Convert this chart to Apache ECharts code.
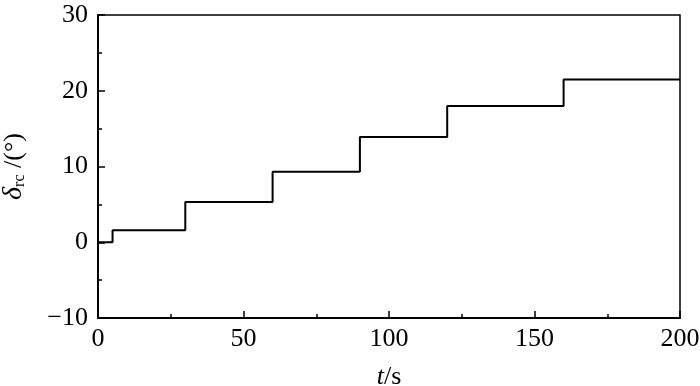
<!DOCTYPE html>
<html>
<head>
<meta charset="utf-8">
<script src="https://cdn.jsdelivr.net/npm/echarts@6/dist/echarts.min.js"></script>
<style>html,body{margin:0;padding:0;background:#fff;}#c{width:700px;height:386px;}</style>
</head>
<body>
<div id="c"></div>
<script>
const stepTimes = [0, 5, 30, 60, 90, 120, 160, 200];
const stepValues = [0, 1.6, 5.3, 9.3, 13.9, 18.0, 21.5, 21.5];
const xTicks = [0, 50, 100, 150, 200];
const yTicks = [-10, 0, 10, 20, 30];

const font = "'Liberation Serif', 'Times New Roman', serif";
const chart = echarts.init(document.getElementById('c'), null, {renderer: 'canvas'});
chart.setOption({
  animation: false,
  backgroundColor: '#fff',
  grid: {left: 98, right: 20, top: 15, bottom: 68, outerBoundsMode: 'none', containLabel: false,
    show: true, borderColor: '#000', borderWidth: 1.5, backgroundColor: 'transparent'},
  xAxis: {
    type: 'value', min: 0, max: 200, interval: 50,
    name: '{i|t}/s', nameLocation: 'middle', nameGap: 46,
    nameTextStyle: {fontFamily: font, fontSize: 26, color: '#000', rich: {i: {fontFamily: font, fontSize: 26, fontStyle: 'italic', color: '#000'}}},
    axisLine: {show: true, onZero: false, lineStyle: {color: '#000', width: 2}},
    axisTick: {show: true, inside: true, length: 7, lineStyle: {color: '#000', width: 1.5}},
    minorTick: {show: true, splitNumber: 2, length: 4, lineStyle: {color: '#000', width: 1.5}},
    axisLabel: {fontFamily: font, fontSize: 26, color: '#000', margin: 8, formatter: v => xTicks.includes(v) ? String(v) : ''},
    splitLine: {show: false}
  },
  yAxis: {
    type: 'value', min: -10, max: 30, interval: 10,
    name: '{d|δ}{s|rc}{n| /(°)}', nameLocation: 'middle', nameGap: 70, nameRotate: 90,
    nameTextStyle: {fontFamily: font, fontSize: 26, color: '#000',
      rich: {
        d: {fontFamily: font, fontSize: 28, fontStyle: 'italic', color: '#000'},
        s: {fontFamily: font, fontSize: 16, color: '#000', verticalAlign: 'bottom', padding: [12, 0, 0, 0]},
        n: {fontFamily: font, fontSize: 26, color: '#000'}
      }},
    axisLine: {show: true, onZero: false, lineStyle: {color: '#000', width: 2}},
    axisTick: {show: true, inside: true, length: 7, lineStyle: {color: '#000', width: 1.5}},
    minorTick: {show: true, splitNumber: 2, length: 4, lineStyle: {color: '#000', width: 1.5}},
    axisLabel: {fontFamily: font, fontSize: 26, color: '#000', margin: 10,
      formatter: v => yTicks.includes(v) ? (v < 0 ? '\u2212' + Math.abs(v) : String(v)) : ''},
    splitLine: {show: false}
  },
  series: [{
    type: 'line', step: 'end', symbol: 'none',
    data: stepTimes.map((t, i) => [t, stepValues[i]]),
    lineStyle: {color: '#000', width: 2}
  }]
});
</script>
</body>
</html>
